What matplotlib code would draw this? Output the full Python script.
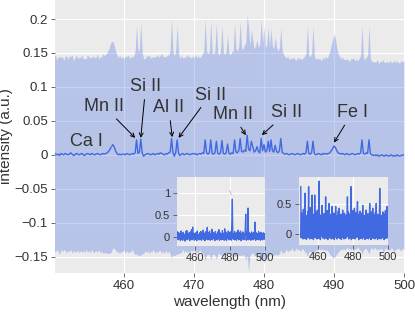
import numpy as np
import matplotlib.pyplot as plt
from matplotlib.ticker import FuncFormatter

plt.rcParams['font.family'] = ['Liberation Sans', 'DejaVu Sans']

# --- mean spectrum and shot-to-shot std, sampled every 0.2 nm from 450 to 500 nm ---
wl_start, wl_stop = 450.0, 500.0

mean_int = [
    0.001, 0.002, 0.000, 0.001, -0.001, 0.002, 0.001, 0.000, 0.002, 0.001,
    0.000, 0.001, 0.003, 0.001, -0.001, 0.000, 0.002, 0.001, 0.000, 0.001,
    0.002, 0.000, -0.001, 0.001, 0.002, 0.001, 0.000, 0.002, 0.001, 0.000,
    0.001, 0.002, 0.001, 0.000, 0.001, 0.002, 0.001, 0.002, 0.003, 0.005,
    0.008, 0.012, 0.015, 0.012, 0.006, 0.002, 0.000, 0.001, 0.000, 0.001,
    0.001, 0.000, 0.002, 0.001, 0.000, 0.001, 0.002, 0.001, 0.003, 0.022,
    0.002, 0.004, 0.023, 0.003, -0.002, 0.000, 0.001, 0.002, 0.001, 0.000,
    0.001, 0.002, 0.000, 0.001, 0.002, 0.001, 0.003, 0.002, 0.001, 0.000,
    0.002, 0.001, 0.003, 0.004, 0.024, 0.003, -0.002, 0.004, 0.022, 0.002,
    -0.001, 0.001, 0.002, 0.000, 0.001, 0.002, 0.001, 0.000, 0.001, 0.002,
    0.001, 0.002, 0.000, 0.001, 0.002, 0.001, 0.003, 0.002, 0.022, 0.003,
    0.001, 0.003, 0.022, 0.002, 0.001, 0.003, 0.020, 0.002, 0.001, 0.003,
    0.021, 0.002, 0.001, 0.003, 0.016, 0.002, 0.001, 0.003, 0.002, 0.022,
    0.004, 0.003, 0.006, 0.024, 0.005, 0.004, 0.007, 0.005, 0.029, 0.008,
    0.006, 0.020, 0.012, 0.004, 0.006, 0.012, 0.005, 0.003, 0.024, 0.006,
    0.015, 0.004, 0.006, 0.020, 0.005, 0.022, 0.006, 0.004, 0.014, 0.005,
    0.003, 0.006, 0.024, 0.004, 0.002, 0.001, 0.002, 0.001, 0.000, 0.001,
    0.002, 0.001, 0.000, 0.001, 0.002, 0.001, 0.000, 0.001, 0.002, 0.001,
    0.003, 0.020, 0.002, 0.001, 0.003, 0.020, 0.002, 0.000, 0.001, 0.002,
    0.001, 0.000, 0.002, 0.001, 0.002, 0.001, 0.002, 0.003, 0.006, 0.009,
    0.013, 0.011, 0.006, 0.003, 0.002, 0.001, 0.002, 0.001, 0.000, 0.002,
    0.001, 0.000, 0.001, 0.002, 0.001, 0.000, 0.001, 0.002, 0.001, 0.003,
    0.022, 0.002, 0.001, 0.003, 0.002, 0.022, 0.002, 0.000, -0.001, 0.000,
    -0.001, 0.000, -0.002, -0.001, 0.000, -0.001, -0.002, 0.000, -0.001, -0.002,
    -0.001, 0.000, -0.002, -0.001, -0.002, 0.000, -0.001, -0.002, -0.001, 0.000,
    -0.001,
]

std_int = [
    0.142, 0.145, 0.140, 0.143, 0.146, 0.141, 0.144, 0.139, 0.143, 0.145,
    0.141, 0.144, 0.142, 0.146, 0.140, 0.143, 0.145, 0.141, 0.144, 0.142,
    0.145, 0.141, 0.143, 0.140, 0.146, 0.142, 0.144, 0.141, 0.145, 0.143,
    0.142, 0.146, 0.141, 0.144, 0.143, 0.147, 0.145, 0.146, 0.148, 0.150,
    0.153, 0.155, 0.152, 0.150, 0.147, 0.145, 0.143, 0.146, 0.142, 0.144,
    0.141, 0.145, 0.143, 0.146, 0.142, 0.144, 0.141, 0.145, 0.150, 0.168,
    0.150, 0.152, 0.171, 0.148, 0.144, 0.141, 0.145, 0.143, 0.146, 0.142,
    0.144, 0.141, 0.145, 0.143, 0.146, 0.142, 0.144, 0.147, 0.143, 0.145,
    0.142, 0.146, 0.144, 0.150, 0.176, 0.150, 0.147, 0.151, 0.168, 0.148,
    0.143, 0.145, 0.141, 0.144, 0.142, 0.146, 0.143, 0.145, 0.141, 0.144,
    0.142, 0.146, 0.143, 0.145, 0.141, 0.144, 0.147, 0.149, 0.178, 0.150,
    0.148, 0.150, 0.176, 0.149, 0.147, 0.151, 0.174, 0.148, 0.146, 0.150,
    0.170, 0.149, 0.147, 0.150, 0.160, 0.148, 0.146, 0.149, 0.151, 0.172,
    0.152, 0.150, 0.154, 0.172, 0.153, 0.151, 0.155, 0.160, 0.177, 0.180,
    0.154, 0.165, 0.156, 0.152, 0.155, 0.158, 0.153, 0.160, 0.176, 0.157,
    0.175, 0.153, 0.156, 0.168, 0.154, 0.164, 0.155, 0.152, 0.160, 0.153,
    0.150, 0.152, 0.163, 0.149, 0.146, 0.143, 0.141, 0.144, 0.140, 0.142,
    0.139, 0.143, 0.141, 0.138, 0.142, 0.140, 0.143, 0.139, 0.141, 0.144,
    0.146, 0.170, 0.145, 0.143, 0.147, 0.170, 0.144, 0.140, 0.142, 0.139,
    0.141, 0.138, 0.142, 0.140, 0.143, 0.141, 0.144, 0.150, 0.155, 0.160,
    0.165, 0.160, 0.152, 0.146, 0.143, 0.140, 0.142, 0.139, 0.141, 0.138,
    0.140, 0.137, 0.141, 0.139, 0.142, 0.138, 0.140, 0.137, 0.141, 0.143,
    0.168, 0.142, 0.139, 0.141, 0.144, 0.168, 0.140, 0.137, 0.139, 0.136,
    0.138, 0.140, 0.136, 0.139, 0.137, 0.141, 0.138, 0.136, 0.139, 0.137,
    0.140, 0.136, 0.138, 0.141, 0.137, 0.139, 0.136, 0.138, 0.140, 0.137,
    0.139,
]

# --- two single shots shown as insets ---
shot1 = [
    0.12, -0.06, 0.10, -0.04, 0.08, -0.08, 0.14, -0.05, 0.09, -0.07,
    0.11, -0.03, 0.06, -0.09, 0.13, -0.05, 0.15, -0.06, 0.08, -0.04,
    0.10, -0.08, 0.12, -0.05, 0.17, -0.06, 0.23, -0.04, 0.09, -0.07,
    0.07, -0.05, 0.11, -0.08, 0.14, -0.03, 0.06, -0.06, 0.10, -0.05,
    0.13, -0.07, 0.08, -0.04, 0.16, -0.06, 0.09, -0.08, 0.12, -0.05,
    0.07, 0.22, -0.06, 0.10, -0.04, 0.14, -0.07, 0.08, -0.05, 0.18,
    -0.06, 0.11, -0.03, 0.09, -0.08, 0.13, -0.05, 0.07, -0.06, 0.12,
    -0.04, 0.17, -0.07, 0.10, -0.05, 0.08, -0.06, 0.15, -0.04, 0.09,
    -0.07, 0.19, -0.05, 0.11, -0.08, 0.07, -0.03, 0.14, -0.06, 0.10,
    -0.05, 0.12, -0.07, 0.30, 0.86, -0.04, 0.09, -0.06, 0.13, -0.05,
    0.08, -0.07, 0.11, -0.04, 0.16, -0.06, 0.10, -0.05, 0.14, -0.08,
    0.09, -0.04, 0.12, -0.06, 0.08, -0.05, 0.13, 0.52, -0.07, 0.11,
    -0.05, 0.66, -0.06, 0.10, -0.04, 0.08, -0.07, 0.12, -0.05, 0.09,
    -0.06, 0.11, -0.04, 0.34, -0.07, 0.10, -0.05, 0.08, -0.06, 0.13,
    -0.04, 0.09, -0.07, 0.11, -0.05, 0.07, -0.06, 0.10, -0.04, 0.08,
    -0.05,
]

shot2 = [
    0.79, -0.06, 0.35, -0.02, 0.28, -0.08, 0.41, -0.04, 0.22, -0.07,
    0.68, -0.03, 0.31, -0.09, 0.25, -0.05, 0.38, -0.06, 0.79, -0.04,
    0.30, -0.08, 0.44, -0.02, 0.27, -0.07, 0.65, -0.05, 0.33, -0.09,
    0.24, -0.04, 0.65, -0.06, 0.36, -0.03, 0.29, -0.08, 0.40, -0.05,
    0.21, -0.07, 0.88, -0.04, 0.32, -0.09, 0.26, -0.03, 0.37, 0.48,
    -0.06, 0.23, -0.05, 0.34, -0.08, 0.28, -0.02, 0.62, -0.07, 0.30,
    -0.04, 0.39, -0.09, 0.25, -0.05, 0.51, -0.06, 0.33, -0.03, 0.27,
    -0.08, 0.36, 0.46, -0.07, 0.22, -0.04, 0.35, -0.09, 0.29, -0.05,
    0.46, -0.03, 0.31, -0.08, 0.24, -0.06, 0.38, -0.04, 0.43, -0.07,
    0.27, -0.05, 0.33, -0.09, 0.21, -0.02, 0.40, -0.06, 0.29, -0.08,
    0.35, -0.04, 0.26, -0.07, 0.32, -0.05, 0.23, 0.62, -0.03, 0.37,
    -0.08, 0.28, -0.06, 0.34, -0.04, 0.79, -0.09, 0.25, -0.05, 0.39,
    -0.07, 0.30, -0.03, 0.43, -0.08, 0.22, -0.06, 0.36, -0.04, 0.27,
    0.54, -0.05, 0.33, -0.09, 0.24, -0.02, 0.38, -0.07, 0.29, -0.04,
    0.35, -0.08, 0.48, -0.06, 0.26, -0.03, 0.31, -0.09, 0.22, -0.05,
    0.40, -0.07, 0.28, -0.04, 0.34, -0.08, 0.25, -0.06, 0.51, -0.03,
    0.30, -0.09, 0.37, -0.05, 0.23, 0.43, -0.07, 0.32, -0.04, 0.27,
    -0.08, 0.36, -0.06, 0.51, -0.03, 0.24, -0.09, 0.33, -0.05, 0.29,
    -0.07, 0.76, -0.04, 0.26, -0.08, 0.31, -0.06, 0.22, 0.37, -0.05,
    0.34, -0.09, 0.28, -0.03, 0.39, -0.07, 0.25, -0.04, 0.46, -0.06,
    0.30,
]

# line labels: (text, label position, peak position)
line_labels = [
    ('Ca I', (454.6, 0.019), (458.2, 0.013)),
    ('Mn II', (457.2, 0.071), (461.6, 0.025)),
    ('Si II', (463.1, 0.100), (462.4, 0.025)),
    ('Al II', (466.4, 0.069), (466.9, 0.026)),
    ('Si II', (472.3, 0.088), (467.8, 0.025)),
    ('Mn II', (475.6, 0.059), (477.4, 0.029)),
    ('Si II', (483.2, 0.062), (479.7, 0.029)),
    ('Fe I', (492.6, 0.062), (490.0, 0.018)),
]

BLUE = '#4169E1'
BG = '#EBEBEB'
TXT = '#333333'


def tick_fmt(v, pos):
    return f'{v:g}'.replace('-', '\u2212')


def style_axes(ax, size):
    ax.set_facecolor(BG)
    ax.grid(True, color='white', linewidth=0.8)
    ax.set_axisbelow(True)
    for s in ax.spines.values():
        s.set_visible(False)
    ax.tick_params(color='#555555', labelcolor=TXT, labelsize=size,
                   length=3, width=0.6, pad=2)
    ax.yaxis.set_major_formatter(FuncFormatter(tick_fmt))


wl = np.linspace(wl_start, wl_stop, len(mean_int))
mean_int = np.array(mean_int)
std_int = np.array(std_int)

fig = plt.figure(figsize=(4.15, 3.12), dpi=100)
ax = fig.add_axes([0.1325, 0.125, 0.841, 0.875])
style_axes(ax, 9.5)

ax.fill_between(wl, mean_int - std_int, mean_int + std_int,
                color=BLUE, alpha=0.3, linewidth=0)
ax.plot(wl, mean_int, color=BLUE, linewidth=1.0)

ax.set_xlim(450.15, 500)
ax.set_ylim(-0.174, 0.228)
ax.set_xticks([460, 470, 480, 490, 500])
ax.set_yticks([-0.15, -0.1, -0.05, 0, 0.05, 0.1, 0.15, 0.2])
ax.set_xlabel('wavelength (nm)', fontsize=11, color=TXT, labelpad=2)
ax.set_ylabel('intensity (a.u.)', fontsize=11, color=TXT, labelpad=1)

for text, xytext, xy in line_labels:
    if text == 'Ca I':
        props = dict(arrowstyle='-', color='0.75', lw=0.6, shrinkA=2, shrinkB=6)
    else:
        props = dict(arrowstyle='->', color='black', lw=0.7,
                     mutation_scale=7, shrinkA=1, shrinkB=0)
    ax.annotate(text, xy=xy, xytext=xytext, ha='center', va='center',
                fontsize=13, color=TXT, arrowprops=props)

# insets with single shots
ax1 = fig.add_axes([0.4265, 0.2115, 0.212, 0.221])
style_axes(ax1, 8)
ax1.plot(np.linspace(wl_start, wl_stop, len(shot1)), shot1,
         color=BLUE, linewidth=0.9)
ax1.set_xlim(449.7, 500)
ax1.set_ylim(-0.2, 1.36)
ax1.set_xticks([460, 480, 500])
ax1.set_yticks([0, 0.5, 1])
ax1.annotate('', xy=(481.2, 0.9), xytext=(479.4, 1.12),
             arrowprops=dict(arrowstyle='-', color='0.7', lw=0.6))

ax2 = fig.add_axes([0.7205, 0.2147, 0.2145, 0.218])
style_axes(ax2, 8)
ax2.plot(np.linspace(wl_start, wl_stop, len(shot2)), shot2,
         color=BLUE, linewidth=1.0)
ax2.set_xlim(449.0, 500)
ax2.set_ylim(-0.18, 0.95)
ax2.set_xticks([460, 480, 500])
ax2.set_yticks([0, 0.5])

fig.savefig('out.png', dpi=100)
